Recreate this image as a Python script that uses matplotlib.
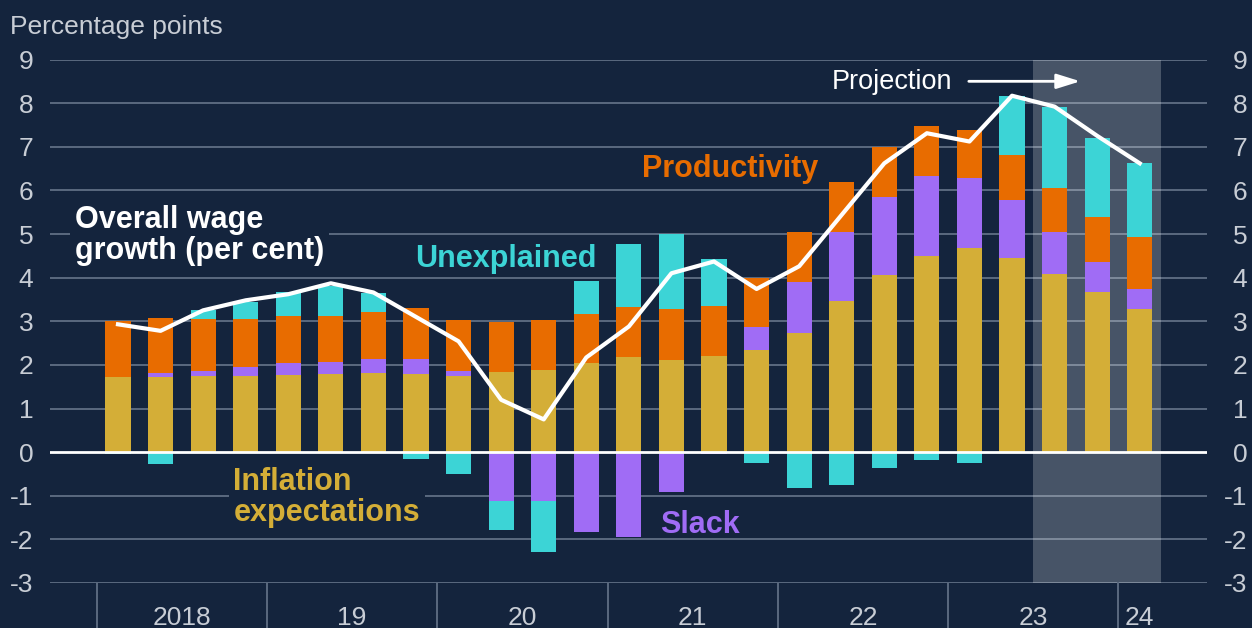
import matplotlib.pyplot as plt
import matplotlib.transforms as mtransforms
import numpy as np

plt.rcParams['font.family'] = ['Liberation Sans', 'DejaVu Sans']
plt.rcParams['axes.unicode_minus'] = False

years = ["2018", "19", "20", "21", "22", "23", "24"]
quarters_per_year = [4, 4, 4, 4, 4, 4, 1]
n_projected = 3

# percentage-point contributions, 2018 Q1 .. 2024 Q1
inflation_expectations = [1.72, 1.72, 1.74, 1.74, 1.77, 1.79, 1.82, 1.80, 1.74, 1.84, 1.89, 2.05, 2.17,
                          2.12, 2.20, 2.33, 2.72, 3.46, 4.05, 4.49, 4.68, 4.45, 4.09, 3.68, 3.27]
slack = [0.0, 0.10, 0.13, 0.21, 0.28, 0.28, 0.32, 0.34, 0.11, -1.13, -1.13, -1.84, -1.94,
         -0.92, -0.05, 0.53, 1.18, 1.58, 1.79, 1.83, 1.60, 1.33, 0.95, 0.68, 0.47]
productivity = [1.28, 1.25, 1.18, 1.10, 1.08, 1.04, 1.07, 1.16, 1.17, 1.14, 1.15, 1.12, 1.16,
                1.15, 1.16, 1.14, 1.14, 1.16, 1.16, 1.16, 1.10, 1.03, 1.01, 1.03, 1.18]
unexplained = [-0.05, -0.27, 0.20, 0.40, 0.53, 0.70, 0.44, -0.15, -0.49, -0.66, -1.17, 0.76, 1.44,
               1.73, 1.07, -0.26, -0.82, -0.75, -0.37, -0.18, -0.24, 1.35, 1.85, 1.82, 1.70]
wage_growth = [2.93, 2.78, 3.25, 3.48, 3.62, 3.87, 3.66, 3.10, 2.54, 1.20, 0.75, 2.17, 2.88,
               4.10, 4.37, 3.74, 4.26, 5.44, 6.62, 7.31, 7.12, 8.17, 7.92, 7.25, 6.62]

bg = '#14243d'
grid_color = '#5a697f'
text_grey = '#c8cdd5'
colors = ['#d4ae37', '#a06cf5', '#e86c00', '#3cd4d6']

fig = plt.figure(figsize=(12.52, 6.28), dpi=100, facecolor=bg)
ax = fig.add_axes([50 / 1252, 45 / 628, 1157 / 1252, 523.5 / 628], facecolor=bg)

x = np.arange(len(wage_growth))
pos_base = np.zeros(len(x))
neg_base = np.zeros(len(x))
for vals, c in zip([inflation_expectations, slack, productivity, unexplained], colors):
    vals = np.array(vals)
    bottom = np.where(vals >= 0, pos_base, neg_base)
    ax.bar(x, vals, width=0.59, bottom=bottom, color=c, zorder=2, linewidth=0)
    pos_base += np.clip(vals, 0, None)
    neg_base += np.clip(vals, None, 0)

ax.plot(x, wage_growth, color='white', lw=3, zorder=3, solid_joinstyle='round')

# gridlines + zero line
for v in range(-3, 10):
    if v != 0:
        ax.axhline(v, color=grid_color, lw=1.4, zorder=0.5)
ax.axhline(0, color='white', lw=2, zorder=2.5)

# projection shading
ax.axvspan(len(x) - n_projected - 0.5, len(x) - 0.5, color='white', alpha=0.22, lw=0, zorder=1)

ax.set_xlim(-1.597, 25.58)
ax.set_ylim(-3, 9)
ax.set_yticks(range(-3, 10))
ax.set_xticks([])
for s in ax.spines.values():
    s.set_visible(False)
ax.tick_params(axis='y', length=0, labelsize=19, labelcolor=text_grey, pad=12)

ax2 = ax.twinx()
ax2.set_ylim(-3, 9)
ax2.set_yticks(range(-3, 10))
for s in ax2.spines.values():
    s.set_visible(False)
ax2.tick_params(axis='y', length=0, labelsize=19, labelcolor=text_grey, pad=29)
for lab in ax2.get_yticklabels():
    lab.set_ha('right')

# year axis
trans = mtransforms.blended_transform_factory(ax.transData, ax.transAxes)
start = -0.5
for year, n in zip(years, quarters_per_year):
    ax.plot([start, start], [0, -0.09], transform=trans, color=grid_color, lw=1.4, clip_on=False)
    ax.text(start + n / 2, -0.080, year, transform=trans, ha='center', va='baseline',
            fontsize=19, color=text_grey)
    start += n

box = dict(boxstyle='square,pad=0.15', facecolor=bg, edgecolor='none')
ax.text(-1.01, 5.66, 'Overall wage\ngrowth (per cent)', fontsize=22, fontweight='bold',
        color='white', va='top', ha='left', linespacing=1.05, bbox=box, zorder=1.5)
ax.text(2.71, -0.33, 'Inflation\nexpectations', fontsize=22, fontweight='bold',
        color=colors[0], va='top', ha='left', linespacing=1.05, bbox=box, zorder=1.5)
ax.text(12.73, -1.33, 'Slack', fontsize=22, fontweight='bold', color=colors[1],
        va='top', ha='left', zorder=1.5)
ax.text(6.98, 4.76, 'Unexplained', fontsize=22, fontweight='bold', color=colors[3],
        va='top', ha='left', zorder=1.5)
ax.text(12.30, 6.83, 'Productivity', fontsize=22, fontweight='bold', color=colors[2],
        va='top', ha='left', zorder=1.5)
ax.text(16.77, 8.79, 'Projection', fontsize=19.5, color='white', va='top', ha='left', zorder=4)
ax.annotate('', xy=(22.67, 8.5), xytext=(19.92, 8.5),
            arrowprops=dict(arrowstyle='-|>,head_length=0.8,head_width=0.25',
                            color='white', lw=2, mutation_scale=18), zorder=4)

fig.text(10 / 1252, 1 - 15 / 628, 'Percentage points', fontsize=19, color=text_grey,
         va='top', ha='left')

fig.savefig('out.png', dpi=100, facecolor=bg)
